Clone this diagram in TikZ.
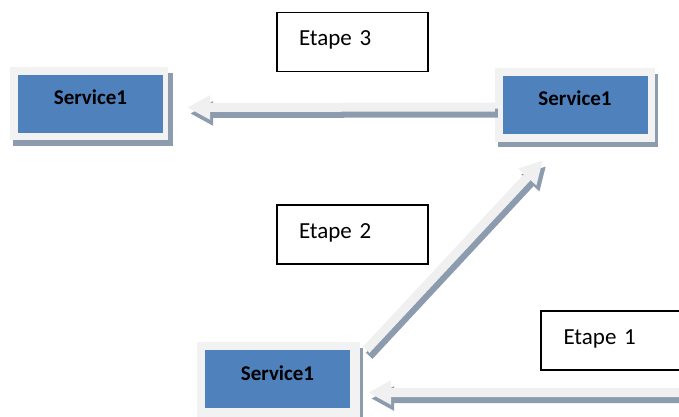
\documentclass[tikz,border=0pt]{standalone}
\usepackage{fontspec}
\setmainfont{Carlito}
\usetikzlibrary{arrows.meta,calc}

\definecolor{svcblue}{HTML}{4F81BD}
\definecolor{framegrey}{HTML}{F2F2F2}
\definecolor{shadowgrey}{HTML}{8D9BAF}
\definecolor{arrowlight}{HTML}{F0F0F0}

\tikzset{
  svcframe/.style={fill=framegrey, draw=none, minimum width=158pt, minimum height=73pt},
  svcshadow/.style={fill=shadowgrey, draw=none},
  svcbox/.style={fill=svcblue, draw=none, minimum width=145pt, minimum height=58pt,
    inner sep=0pt, font=\bfseries\fontsize{21}{24}\selectfont,
    text height=13pt, text depth=11pt},
  etapebox/.style={draw=black, line width=1.4pt, fill=white,
    minimum width=151pt, minimum height=59pt, inner xsep=22pt, inner ysep=0pt,
    text width=107pt, align=left, font=\fontsize{23}{26}\selectfont,
    text height=15pt, text depth=7.5pt},
  blockarrow/.style={line width=9pt, line cap=butt,
    -{Triangle[length=23pt,width=23pt]}},
  arrowshade/.style={blockarrow, draw=shadowgrey,
    transform canvas={xshift=3pt,yshift=-6pt}},
  arrowface/.style={blockarrow, draw=arrowlight},
}

\begin{document}
\begin{tikzpicture}[x=1pt,y=-1pt]
  \useasboundingbox (0,0) rectangle (679,417);
  \clip (0,0) rectangle (679,417);

  % service boxes: shadow, light frame, blue face
  \fill[svcshadow] (13,73) rectangle (173,146);
  \node[svcframe, minimum width=158pt, minimum height=73pt] (f1) at (89,103.5) {};
  \node[svcbox] (s1) at (90.5,104) {Service1};

  \fill[svcshadow] (498,74) rectangle (658,147);
  \node[svcframe, minimum width=160pt, minimum height=74pt] (f2) at (575,105) {};
  \node[svcbox] (s2) at (575,105) {Service1};

  \fill[svcshadow] (200,348) rectangle (363,420);
  \node[svcframe, minimum width=163pt, minimum height=75pt] (f3) at (278.5,379.5) {};
  \node[svcbox] (s3) at (277.5,379) {Service1};

  % step labels
  \node[etapebox] (e3) at (352.5,42) {Etape 3};
  \node[etapebox] (e2) at (352.5,234.5) {Etape 2};
  \node[etapebox, minimum width=152pt] (e1) at (617,340.5) {Etape 1};

  % end points of the block arrows
  \coordinate (a3s) at ($(f2.west)+(0,2)$);
  \coordinate (a3e) at ($(f1.east)+(19,4)$);
  \coordinate (a2s) at ($(f3.north east)+(6,8)$);
  \coordinate (a2e) at ($(f2.south)+(-32,18)$);
  \coordinate (a1s) at ($(e1.south east)+(20,22)$);
  \coordinate (a1e) at ($(f3.east)+(8,13)$);

  % block arrows with their drop shadow
  \draw[arrowshade] (a3s) -- (a3e);
  \draw[arrowface]  (a3s) -- (a3e);
  \draw[arrowshade] (a2s) -- (a2e);
  \draw[arrowface]  (a2s) -- (a2e);
  \draw[arrowshade] (a1s) -- (a1e);
  \draw[arrowface]  (a1s) -- (a1e);
\end{tikzpicture}
\end{document}
